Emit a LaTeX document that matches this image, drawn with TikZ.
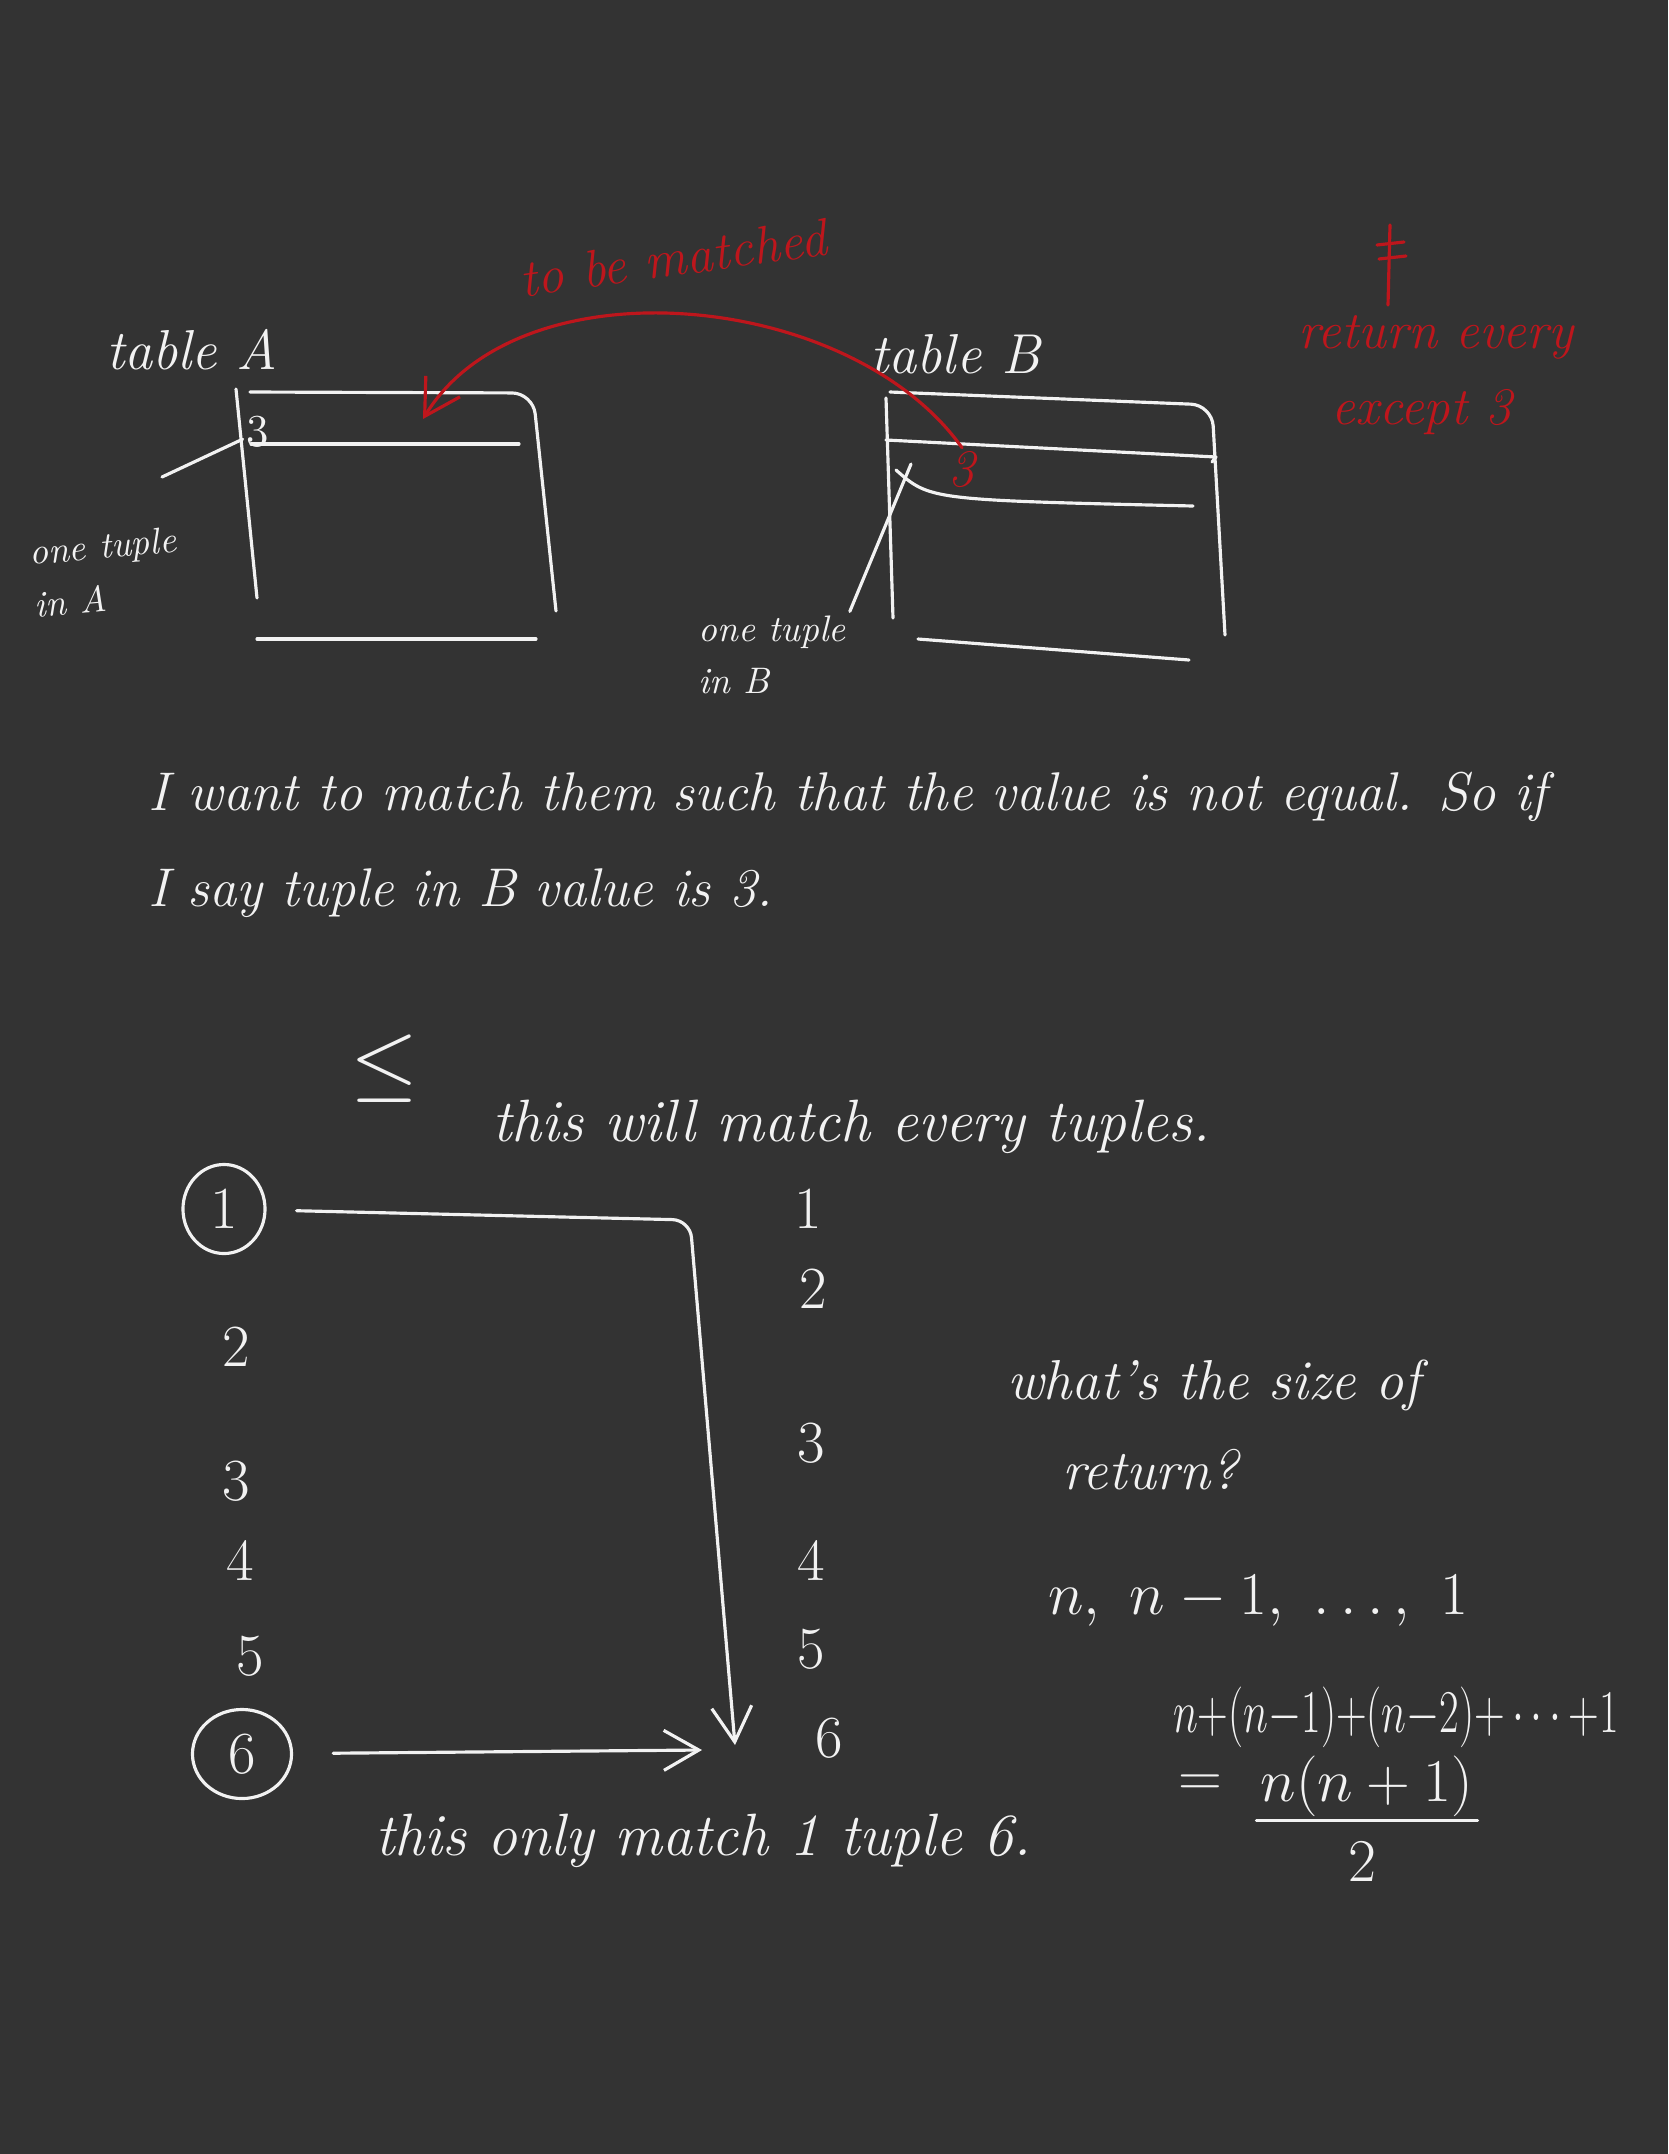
\documentclass[tikz,border=0pt]{standalone}
\usepackage{amsmath}
\usepackage{graphicx}
\usetikzlibrary{arrows.meta,shapes.geometric}
\definecolor{board}{HTML}{333333}
\definecolor{chalk}{HTML}{F2F2F2}
\definecolor{redink}{RGB}{190,22,28}

\begin{document}
\begin{tikzpicture}[x=0.01cm, y=-0.01cm, >={Straight Barb[length=3.5mm,width=4mm]},
    ink/.style={draw=chalk, line width=0.9pt, line cap=round, line join=round},
    rink/.style={draw=redink, line width=0.9pt, line cap=round, line join=round},
    hand/.style={text=chalk, font=\fontsize{16}{19}\selectfont\itshape, inner sep=1pt},
    small/.style={hand, font=\fontsize{10.5}{15}\selectfont\itshape, align=left},
    rhand/.style={text=redink, font=\fontsize{15}{18}\selectfont\itshape, inner sep=1pt},
    num/.style={hand, font=\fontsize{17}{20}\selectfont}]

    \useasboundingbox (0,0) rectangle (1668,2154);
    \fill[board] (0,0) rectangle (1668,2154);

    % table A
    \node[hand] (tA) at (192,350) {table A};
    \draw[ink] (236,389) -- (257,598);
    \draw[ink, rounded corners=6pt] (250,392) -- (533,393) -- (556,611);
    \draw[ink] (251,444) -- (519,444);
    \draw[ink] (257,639) -- (536,639);
    \node[num, font=\fontsize{13}{15}\selectfont] (a3) at (258,432) {3};
    \node[small, rotate=5] (la) at (105,572) {one tuple\\in A};
    \coordinate (ptA) at (162,477);
    \draw[ink] (ptA) -- (a3);

    % table B
    \node[hand] (tB) at (955,354) {table B};
    \draw[ink] (886,398) -- (893,618);
    \draw[ink, rounded corners=6pt] (890,392) -- (1212,405) -- (1225,635);
    \draw[ink] (886,440) -- (1216,457) -- (1212,462);
    \draw[ink] (896,470) .. controls (930,500) .. (1193,506);
    \draw[ink] (918,639) -- (1189,660);
    \node[small] (lb) at (772,655) {one tuple\\in B};
    \coordinate (tipB) at (911,464);
    \draw[ink] (lb.north east) -- (tipB);

    % red notes
    \node[rhand, rotate=8] (tbm) at (673,258) {to be matched};
    \node[rhand] (b3) at (962,470) {3};
    \coordinate (tipA) at (423,419);
    \draw[rink, ->] (b3.north) .. controls (850,290) and (520,260) .. (tipA);
    \draw[rink] (1390,225) -- (1388,305);
    \draw[rink] (1377,245) -- (1404,242);
    \draw[rink] (1379,259) -- (1406,256);
    \node[rhand] (ret) at (1436,337) {return every};
    \node[rhand] (exc) at (1422,412) {except 3};

    \node[hand, anchor=west, font=\fontsize{15.5}{18}\selectfont\itshape] (p1) at (144,797) {I want to match them such that the value is not equal. So if};
    \node[hand, anchor=west, font=\fontsize{15.5}{18}\selectfont\itshape] (p2) at (144,893) {I say tuple in B value is 3.};

    \node[hand, font=\fontsize{24}{26}\selectfont] (leq) at (385,1069) {$\leq$};
    \node[hand, anchor=west, font=\fontsize{17}{20}\selectfont\itshape] (every) at (488,1127) {this will match every tuples.};

    % the two columns
    \node[num, draw=chalk, line width=0.9pt, ellipse, minimum width=0.82cm, minimum height=0.89cm] (l1) at (224,1209) {1};
    \foreach \n/\x/\y in {2/236/1347, 3/236/1481, 4/240/1560, 5/250/1656}
        \node[num] (l\n) at (\x,\y) {\n};
    \node[num, draw=chalk, line width=0.9pt, ellipse, minimum width=0.99cm, minimum height=0.89cm] (l6) at (242,1754) {6};
    \foreach \n/\x/\y in {1/808/1209, 2/813/1289, 3/811/1443, 4/811/1560, 5/811/1649, 6/829/1738}
        \node[num] (r\n) at (\x,\y) {\n};

    \coordinate (turn) at (690,1220);
    \coordinate (downend) at (735,1745);
    \coordinate (sideend) at (702,1750);
    \draw[ink, ->, rounded corners=5pt, shorten <=3mm] (l1) -- (turn) -- (downend);
    \draw[ink, ->, shorten <=4mm] (l6) -- (sideend);

    \node[hand, anchor=west, font=\fontsize{17}{20}\selectfont\itshape] (only) at (371,1841) {this only match 1 tuple 6.};

    % size of the result
    \node[hand, anchor=west] (q1) at (1003,1385) {what's the size of};
    \node[hand, anchor=west] (q2) at (1058,1470) {return?};
    \node[hand, anchor=west] (seq) at (1044,1601) {$n,\ n-1,\ \ldots,\ 1$};
    \node[hand, font=\fontsize{17}{20}\selectfont] (sum) at (1396,1717) {\scalebox{0.7}[1]{$n{+}(n{-}1){+}(n{-}2){+}\cdots{+}1$}};
    \node[hand] (eq) at (1200,1786) {$=$};
    \node[hand] (numer) at (1367,1786) {$n(n+1)$};
    \node[hand] (den) at (1362,1862) {$2$};
    \draw[ink] (numer.south west) -- (numer.south east);
\end{tikzpicture}
\end{document}
